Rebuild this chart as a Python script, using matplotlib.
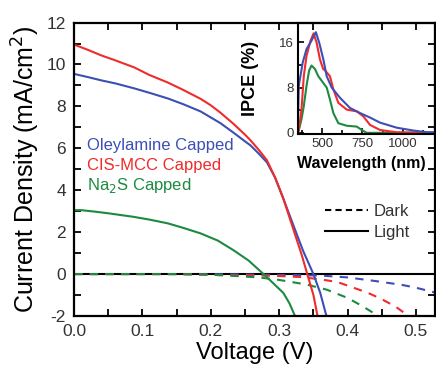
import numpy as np
import matplotlib
matplotlib.use("Agg")
import matplotlib.pyplot as plt
from matplotlib.lines import Line2D
from matplotlib.ticker import MultipleLocator, FormatStrFormatter

plt.rcParams['font.family'] = ['Liberation Sans', 'DejaVu Sans']
plt.rcParams['axes.unicode_minus'] = False

BLUE = '#3d4fb5'
RED = '#f02b2b'
GREEN = '#1c8a40'

# light J-V curves (V in volts, J in mA/cm2)
v_oley = [0, 0.02, 0.04, 0.06, 0.088, 0.11, 0.137, 0.16, 0.185, 0.214, 0.233, 0.25, 0.258, 0.27,
          0.282, 0.294, 0.306, 0.321, 0.335, 0.350, 0.360, 0.369, 0.373]
j_oley = [9.55, 9.4, 9.24, 9.1, 8.86, 8.65, 8.38, 8.1, 7.76, 7.2, 6.75, 6.33, 6.14, 5.75,
          5.33, 4.6, 3.6, 2.3, 1.1, 0.0, -0.9, -2.0, -2.5]
v_cis = [0, 0.02, 0.04, 0.06, 0.088, 0.11, 0.137, 0.16, 0.185, 0.2, 0.214, 0.233, 0.25, 0.258, 0.27,
         0.282, 0.294, 0.306, 0.321, 0.333, 0.341, 0.350, 0.356, 0.360]
j_cis = [10.95, 10.7, 10.43, 10.2, 9.86, 9.5, 9.14, 8.78, 8.36, 8.05, 7.7, 7.17, 6.65, 6.38, 5.93,
         5.43, 4.6, 3.6, 2.1, 0.9, 0.0, -1.0, -2.0, -2.6]
v_na2s = [0, 0.01, 0.03, 0.05, 0.087, 0.11, 0.137, 0.16, 0.185, 0.21, 0.233, 0.255, 0.277,
          0.29, 0.306, 0.315, 0.323, 0.327]
j_na2s = [3.05, 3.05, 2.98, 2.9, 2.73, 2.6, 2.42, 2.2, 1.94, 1.6, 1.14, 0.65, 0.0,
          -0.4, -0.9, -1.4, -2.0, -2.4]

# dark J-V curves
vd_oley = [0, 0.2, 0.3, 0.36, 0.4, 0.44, 0.48, 0.5, 0.53]
jd_oley = [0, 0, -0.04, -0.07, -0.16, -0.33, -0.52, -0.65, -0.9]
vd_cis = [0, 0.15, 0.2, 0.25, 0.29, 0.33, 0.36, 0.385, 0.4, 0.43, 0.45, 0.47, 0.487, 0.495]
jd_cis = [0, 0, -0.04, -0.06, -0.08, -0.14, -0.25, -0.38, -0.55, -0.9, -1.2, -1.55, -1.95, -2.1]
vd_na2s = [0, 0.15, 0.2, 0.24, 0.27, 0.3, 0.34, 0.37, 0.4, 0.42, 0.445, 0.455]
jd_na2s = [0, 0, -0.03, -0.1, -0.16, -0.28, -0.5, -0.75, -1.14, -1.5, -2.0, -2.2]

# IPCE spectra (nm, %)
wl_oley = [350, 356, 381, 404, 435, 456, 462, 483, 508, 529, 560, 611, 673, 735, 797, 859, 963, 1066, 1150, 1200]
ipce_oley = [0, 8.3, 12.5, 14.8, 16.3, 17.5, 17.8, 15.9, 13, 10, 8, 6.2, 4.4, 3.5, 2.7, 1.8, 0.9, 0.4, 0.1, 0.1]
wl_cis = [350, 356, 373, 387, 404, 429, 448, 466, 487, 507, 520, 549, 570, 601, 653, 715, 756, 797, 859, 960, 1200]
ipce_cis = [0, 0.5, 4.1, 10, 13.6, 16.3, 17.6, 16, 13, 11.3, 11, 10, 7.7, 5.3, 4.1, 3.8, 2.9, 1.4, 0.5, 0.1, 0]
wl_na2s = [350, 356, 373, 387, 404, 420, 435, 456, 477, 498, 529, 549, 570, 601, 653, 715, 746, 776, 1200]
ipce_na2s = [0, 0.4, 2.4, 4.7, 8.3, 11, 11.9, 11.3, 10, 9.2, 8, 5.9, 3.5, 1.7, 1.25, 1.1, 0.5, 0, 0]

labels = ['Oleylamine Capped', 'CIS-MCC Capped', 'Na$_2$S Capped']

fig = plt.figure(figsize=(4.36, 3.70), dpi=100)
ax = fig.add_axes([0.170, 0.146, 0.828, 0.793])

ax.axhline(0, color='black', lw=1.5, zorder=1)
dash = (4, 3.5)
ax.plot(vd_oley, jd_oley, color=BLUE, lw=1.5, dashes=dash)
ax.plot(vd_cis, jd_cis, color=RED, lw=1.5, dashes=dash)
ax.plot(vd_na2s, jd_na2s, color=GREEN, lw=1.5, dashes=dash)
ax.plot(v_oley, j_oley, color=BLUE, lw=1.5)
ax.plot(v_cis, j_cis, color=RED, lw=1.5)
ax.plot(v_na2s, j_na2s, color=GREEN, lw=1.5)

ax.set_xlim(0, 0.528)
ax.set_ylim(-2, 12)
ax.xaxis.set_major_locator(MultipleLocator(0.1))
ax.xaxis.set_minor_locator(MultipleLocator(0.05))
ax.yaxis.set_major_locator(MultipleLocator(2))
ax.yaxis.set_minor_locator(MultipleLocator(1))
ax.tick_params(which='both', direction='in', top=True, right=True, width=1.3,
               labelsize=12.5, labelcolor='#333333', pad=6)
ax.tick_params(which='major', length=5)
ax.tick_params(which='minor', length=5)
for s in ax.spines.values():
    s.set_linewidth(1.6)
ax.xaxis.set_major_formatter(FormatStrFormatter('%.1f'))
ax.set_xlabel('Voltage (V)', fontsize=17, labelpad=2)
ax.set_ylabel('Current Density (mA/cm$^2$)', fontsize=18, labelpad=3)

for i, (lab, col) in enumerate(zip(labels, [BLUE, RED, GREEN])):
    ax.text(0.035, 0.582 - i * 0.068, lab, color=col, fontsize=12,
            transform=ax.transAxes, va='center', ha='left')

handles = [Line2D([], [], color='black', lw=1.5, dashes=(3, 2)),
           Line2D([], [], color='black', lw=1.5)]
ax.legend(handles, ['Dark', 'Light'], loc='center left', bbox_to_anchor=(0.695, 0.32),
          frameon=False, fontsize=12, handlelength=2.6, handletextpad=0.3,
          borderpad=0, borderaxespad=0, labelspacing=0.35, labelcolor='#333333')

# inset with IPCE
ins = fig.add_axes([0.683, 0.638, 0.315, 0.301])
ins.patch.set_alpha(0)
ins.plot(wl_na2s, ipce_na2s, color=GREEN, lw=1.5)
ins.plot(wl_cis, ipce_cis, color=RED, lw=1.5)
ins.plot(wl_oley, ipce_oley, color=BLUE, lw=1.5)
ins.set_xlim(350, 1200)
ins.set_ylim(-0.2, 19.5)
ins.xaxis.set_major_locator(MultipleLocator(250))
ins.xaxis.set_minor_locator(MultipleLocator(125))
ins.yaxis.set_major_locator(MultipleLocator(8))
ins.yaxis.set_minor_locator(MultipleLocator(4))
ins.tick_params(which='both', direction='in', top=False, right=False, width=1.2,
                labelsize=9.5, labelcolor='#333333', pad=3)
ins.tick_params(which='major', length=4)
ins.tick_params(which='minor', length=3)
for s in ins.spines.values():
    s.set_linewidth(1.5)
ins.set_xlabel('Wavelength (nm)', fontsize=11.5, fontweight='bold', labelpad=0)
ins.xaxis.set_label_coords(0.46, -0.2)
ins.set_ylabel('IPCE (%)', fontsize=13, fontweight='bold', labelpad=1)
ins.yaxis.set_label_coords(-0.28, 0.5)

fig.savefig('out.png', dpi=100)
